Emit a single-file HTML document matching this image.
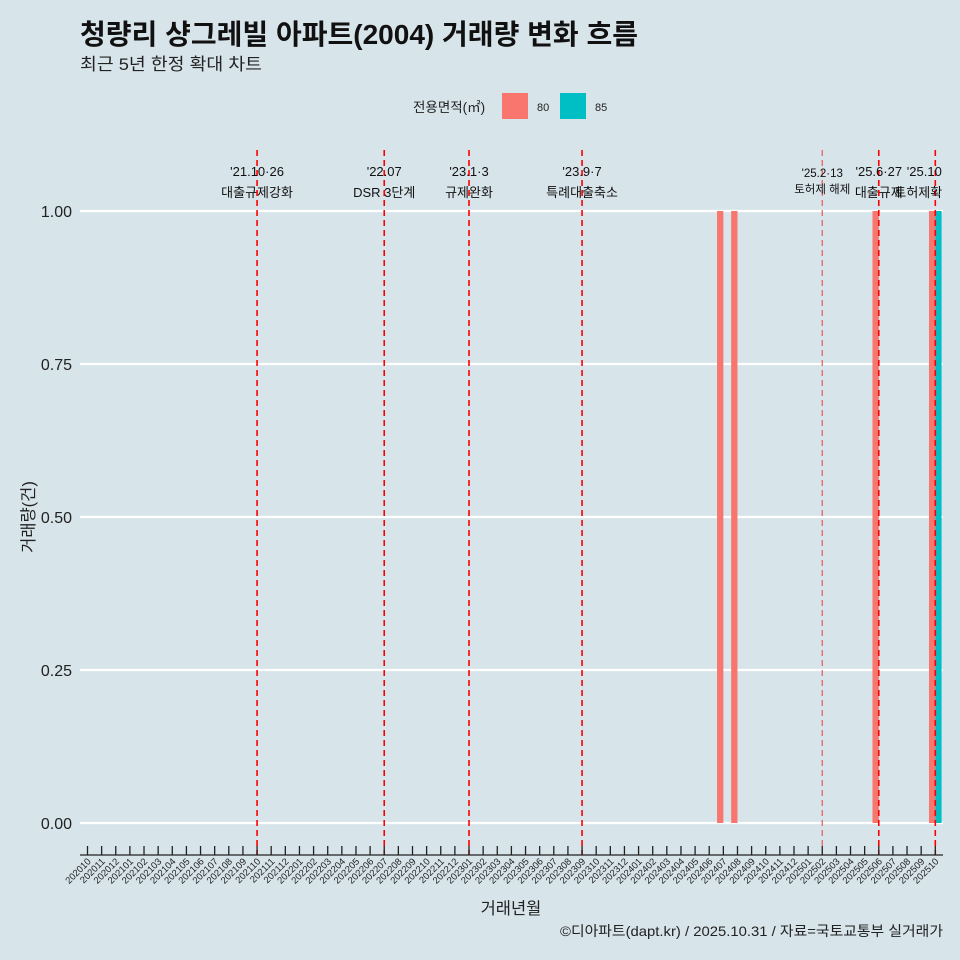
<!DOCTYPE html>
<html><head><meta charset="utf-8"><style>
body{margin:0;background:#d7e4ea;}
svg{display:block;font-family:"Liberation Sans","Noto Sans CJK KR",sans-serif;}
</style></head><body>
<svg id="chart" width="960" height="960" viewBox="0 0 960 960">
<defs><clipPath id="clip"><rect x="0" y="0" width="943" height="960"/></clipPath></defs>
<rect width="960" height="960" fill="#d7e4ea"/>
<text x="80" y="44" font-size="28" font-weight="bold" fill="#111" textLength="558" lengthAdjust="spacingAndGlyphs">청량리 샹그레빌 아파트(2004) 거래량 변화 흐름</text>
<text x="80" y="70" font-size="17" fill="#222" textLength="182" lengthAdjust="spacingAndGlyphs">최근 5년 한정 확대 차트</text>
<g>
<text x="413" y="112" font-size="13.5" fill="#222">전용면적(㎡)</text>
<rect x="502" y="93" width="26" height="26" fill="#f8766d"/>
<text x="537" y="111" font-size="11" fill="#222">80</text>
<rect x="560" y="93" width="26" height="26" fill="#00bfc4"/>
<text x="595" y="111" font-size="11" fill="#222">85</text>
</g>
<g id="grid"></g><g id="bars"></g><g id="vlines" clip-path="url(#clip)"></g><g id="axis"></g>
<text x="511" y="914" font-size="16.5" text-anchor="middle" fill="#222">거래년월</text>
<text transform="translate(34,517) rotate(-90)" font-size="16.5" text-anchor="middle" fill="#222">거래량(건)</text>
<text x="943" y="936" font-size="14" text-anchor="end" fill="#222" textLength="383" lengthAdjust="spacingAndGlyphs">©디아파트(dapt.kr) / 2025.10.31 / 자료=국토교통부 실거래가</text>
</svg>
<script>
const months=[];for(let y=2020,m=10;;){months.push(y+String(m).padStart(2,'0'));if(y===2025&&m===10)break;m++;if(m>12){m=1;y++;}}
const yTicks=[0,0.25,0.5,0.75,1];
const yTickLabels=["0.00","0.25","0.50","0.75","1.00"];
const series80Months=["202407","202408","202506","202510"];
const series80Values=[1,1,1,1];
const series85Months=["202510"];
const series85Values=[1];
const eventMonths=["202110","202207","202301","202309","202502","202506","202510"];
const eventDates=["'21.10·26","'22.07","'23.1·3","'23.9·7","'25.2·13","'25.6·27","'25.10"];
const eventNames=["대출규제강화","DSR 3단계","규제완화","특례대출축소","토허제 해제","대출규제","토허제확대"];
const NS="http://www.w3.org/2000/svg";
const x0=87.5,step=14.13;
const xs=m=>x0+months.indexOf(m)*step;
const ys=v=>823-v*612;
function mk(t,a,p){const e=document.createElementNS(NS,t);for(const k in a)e.setAttribute(k,a[k]);p.appendChild(e);return e;}
const grid=document.getElementById('grid'),vl=document.getElementById('vlines'),bars=document.getElementById('bars'),ax=document.getElementById('axis');
yTicks.forEach((v,i)=>{
 const l=mk('line',{x1:80,x2:943,y1:ys(v),y2:ys(v),stroke:'#fff','stroke-width':2.2},grid);
 
 
 const t=mk('text',{x:72,y:ys(v)+6,'font-size':16,'text-anchor':'end',fill:'#222'},grid);
 t.textContent=yTickLabels[i];
 
 
});
const bw=6.3;
series80Months.forEach((m,i)=>{
 const r=mk('rect',{x:xs(m)-bw,y:ys(series80Values[i]),width:bw,height:ys(0)-ys(series80Values[i]),fill:'#f8766d'},bars);
 
 
});
series85Months.forEach((m,i)=>{
 const r=mk('rect',{x:xs(m),y:ys(series85Values[i]),width:bw,height:ys(0)-ys(series85Values[i]),fill:'#00bfc4'},bars);
 
 
});
eventMonths.forEach((m,i)=>{
 const x=xs(m);const light=m==="202502";
 const l=mk('line',{x1:x,x2:x,y1:150,y2:855,stroke:light?'#e8575a':'#f00','stroke-width':light?1.2:1.6,'stroke-dasharray':'6,4'},vl);
 
 
 const fs=light?11.5:13;
 const tx=i===eventMonths.length-1?x-11:x;
 const t1=mk('text',{x:tx,y:light?177:176,'font-size':fs,'text-anchor':'middle',fill:'#111'},vl);
 t1.textContent=eventDates[i];
 
 
 const t2=mk('text',{x:tx,y:light?193:197,'font-size':fs,'text-anchor':'middle',fill:'#111'},vl);
 t2.textContent=eventNames[i];
 
 
});
const al=mk('line',{x1:80,x2:943,y1:855,y2:855,stroke:'#222','stroke-width':1.3},ax);


months.forEach(m=>{
 const x=xs(m);
 const tk=mk('line',{x1:x,x2:x,y1:846,y2:855,stroke:'#222','stroke-width':1.3},ax);
 
 
 const t=mk('text',{transform:`translate(${x+4},${862}) rotate(-45)`,'font-size':9.5,'text-anchor':'end',fill:'#222'},ax);
 t.textContent=m;
 
 
});
</script>
</body></html>
